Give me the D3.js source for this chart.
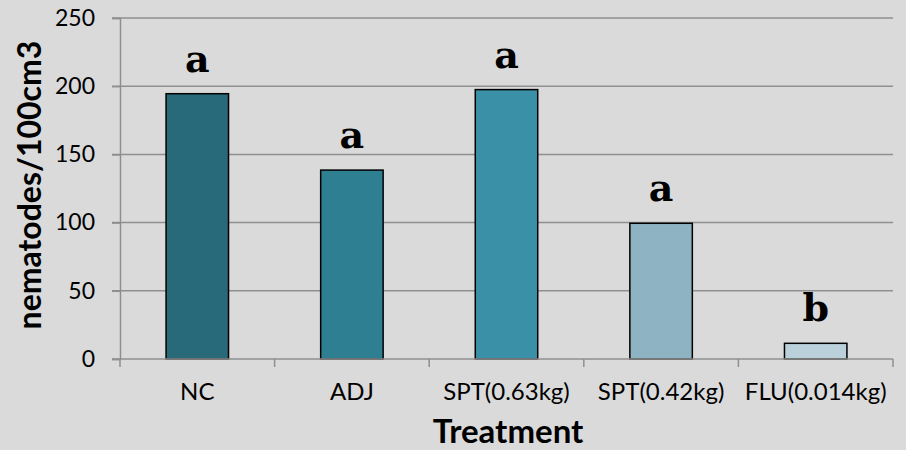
<!DOCTYPE html>
<html><head><meta charset="utf-8">
<script src="https://cdn.jsdelivr.net/npm/d3@7"></script>
<style>
html,body{margin:0;padding:0;background:#dadada;}
svg{display:block;}
</style></head>
<body>
<script>
const categories = ["NC","ADJ","SPT(0.63kg)","SPT(0.42kg)","FLU(0.014kg)"];
const values = [194.5, 138.5, 197.5, 99.5, 11.5];
const letters = ["a","a","a","a","b"];
const colors = ["#286a7a","#2e7f91","#3a90a7","#8eb4c3","#bad0da"];
const yTicks = [0,50,100,150,200,250];
const yTitle = "nematodes/100cm3";
const xTitle = "Treatment";

const W = 906, H = 450;
const m = {left:120, right:13, top:18, bottom:91};
const svg = d3.select("body").append("svg").attr("width",W).attr("height",H);
svg.append("rect").attr("width",W).attr("height",H).attr("fill","#dadada");

const x = d3.scaleBand().domain(categories).range([m.left, W-m.right]).paddingInner(0.596).paddingOuter(0.298);
const y = d3.scaleLinear().domain([0,250]).range([H-m.bottom, m.top]);
const gridColor = "#8f8f8f";
const font = "Lato, 'Open Sans', sans-serif";

// gridlines
svg.append("g").selectAll("line").data(yTicks.slice(1)).join("line")
  .attr("x1", m.left-8).attr("x2", W-m.right)
  .attr("y1", d=>y(d)).attr("y2", d=>y(d))
  .attr("stroke", gridColor).attr("stroke-width", 1.5);

// y axis
const yAxis = svg.append("g").attr("transform",`translate(${m.left},0)`)
  .call(d3.axisLeft(y).tickValues(yTicks).tickSize(8).tickPadding(17));
yAxis.select(".domain").attr("stroke", gridColor).attr("stroke-width",1.5);
yAxis.selectAll(".tick line").attr("stroke", gridColor).attr("stroke-width",1.5);
yAxis.selectAll("text").attr("font-family", font).attr("font-size", 23).attr("fill","#000");

// bars
svg.append("g").selectAll("rect").data(categories).join("rect")
  .attr("x", d=>x(d)).attr("width", x.bandwidth())
  .attr("y", (d,i)=>y(values[i])).attr("height", (d,i)=>y(0)-y(values[i]))
  .attr("fill", (d,i)=>colors[i]).attr("stroke","#000").attr("stroke-width",1.5);

// x axis
const step = x.step();
const xTickPos = d3.range(categories.length+1).map(i=>m.left + i*step);
svg.append("line").attr("x1", m.left-8).attr("x2", W-m.right).attr("y1", y(0)).attr("y2", y(0))
  .attr("stroke", gridColor).attr("stroke-width", 1.5);
svg.append("g").selectAll("line").data(xTickPos).join("line")
  .attr("x1", d=>d).attr("x2", d=>d).attr("y1", y(0)).attr("y2", y(0)+8)
  .attr("stroke", gridColor).attr("stroke-width", 1.5);
svg.append("g").selectAll("text").data(categories).join("text")
  .attr("x", d=>x(d)+x.bandwidth()/2).attr("y", y(0)+41)
  .attr("text-anchor","middle").attr("font-family", font).attr("font-size", 24)
  .attr("fill","#000").text(d=>d);

// letters
svg.append("g").selectAll("text").data(categories).join("text")
  .attr("x", d=>x(d)+x.bandwidth()/2).attr("y", (d,i)=>y(values[i])-22)
  .attr("text-anchor","middle").attr("font-family","'DejaVu Serif', serif")
  .attr("font-weight","bold").attr("font-size", 38).attr("fill","#000")
  .text((d,i)=>letters[i]);

// titles
svg.append("text").attr("x", 508).attr("y", 443).attr("text-anchor","middle")
  .attr("font-family", font).attr("font-weight","bold").attr("font-size", 33)
  .attr("fill","#000").text(xTitle);
svg.append("text").attr("transform","translate(41,185) rotate(-90)")
  .attr("text-anchor","middle").attr("font-family", font).attr("font-weight","bold")
  .attr("font-size", 32).attr("fill","#000").text(yTitle);
</script>
</body></html>
